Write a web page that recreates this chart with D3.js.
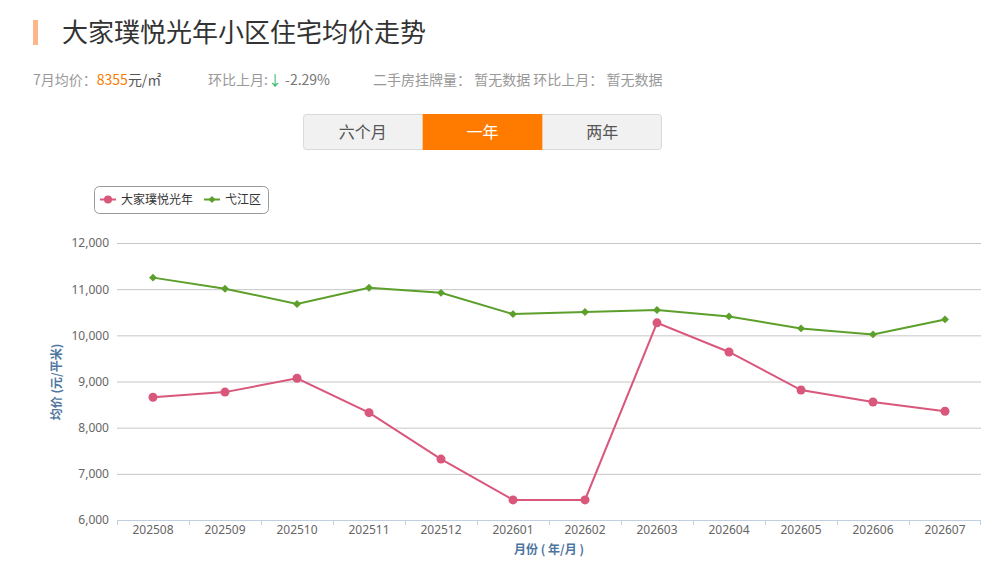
<!DOCTYPE html>
<html>
<head>
<meta charset="utf-8">
<script src="https://cdn.jsdelivr.net/npm/d3@7"></script>
<style>
  body { margin: 0; background: #fff; font-family: "Noto Sans CJK SC", "Noto Sans", sans-serif; }
  .axis text { font-family: "Noto Sans", "DejaVu Sans", sans-serif; font-size: 12px; fill: #666; }
  .axis path { display: none; }
  .grid line { stroke: #c6c6c6; }
  .grid path { display: none; }
</style>
</head>
<body>
<div id="chart"></div>
<script>
const svgWidth = 989,
    svgHeight = 581,
    plot = { left: 117, right: 981, top: 243, bottom: 520 };

// data
const months = ["202508", "202509", "202510", "202511", "202512", "202601",
    "202602", "202603", "202604", "202605", "202606", "202607"];
const estatePrice = [8660, 8770, 9070, 8325, 7320, 6435, 6435, 10270, 9640, 8815, 8555, 8355];
const districtPrice = [11250, 11010, 10680, 11030, 10920, 10460, 10505, 10550, 10410, 10150, 10020, 10345];
const yTicks = [6000, 7000, 8000, 9000, 10000, 11000, 12000];
const seriesNames = ["大家璞悦光年", "弋江区"];
const tabs = ["六个月", "一年", "两年"];

const red = "#d9577b", green = "#5c9f2b";

let svg = d3.select("#chart").append("svg")
    .attr("width", svgWidth)
    .attr("height", svgHeight);

/* header */
svg.append("rect")
    .attr("x", 33).attr("y", 20)
    .attr("width", 5).attr("height", 25)
    .style("fill", "#fbb68a");
svg.append("text")
    .attr("x", 62).attr("y", 42)
    .style("font-size", "26px")
    .style("fill", "#333")
    .text("大家璞悦光年小区住宅均价走势");

// summary row
let info = svg.append("g").style("font-size", "14px");
let t1 = info.append("text").attr("x", 33).attr("y", 85);
t1.append("tspan").style("fill", "#999").text("7月均价：");
t1.append("tspan").style("fill", "#f77c00").text("8355");
t1.append("tspan").style("fill", "#555").text("元/㎡");
let t2 = info.append("text").attr("x", 208).attr("y", 85);
t2.append("tspan").style("fill", "#999").text("环比上月:");
t2.append("tspan").style("fill", "#2dbb6a").text("↓");
t2.append("tspan").style("fill", "#777").text(" -2.29%");
info.append("text").attr("x", 373).attr("y", 85)
    .style("fill", "#999")
    .text("二手房挂牌量： 暂无数据 环比上月： 暂无数据");

// tab buttons
let tabX = d3.scaleBand().domain(tabs).range([303, 662]);
let tabG = svg.append("g");
tabG.append("rect")
    .attr("x", 303.5).attr("y", 114.5)
    .attr("width", 358).attr("height", 35)
    .attr("rx", 3)
    .style("fill", "#f1f1f1")
    .style("stroke", "#d9d9d9");
tabG.append("rect")
    .attr("x", tabX("一年")).attr("y", 114)
    .attr("width", tabX.bandwidth()).attr("height", 36)
    .style("fill", "#ff7b00");
tabG.selectAll("text.tab")
    .data(tabs)
    .join("text")
    .attr("class", "tab")
    .attr("x", d => tabX(d) + tabX.bandwidth() / 2)
    .attr("y", 138)
    .attr("text-anchor", "middle")
    .style("font-size", "16px")
    .style("fill", d => d == "一年" ? "#fff" : "#555")
    .text(d => d);

/* chart */
let x = d3.scaleBand()
    .domain(months)
    .range([plot.left, plot.right]);
let y = d3.scaleLinear()
    .domain([6000, 12000])
    .range([plot.bottom, plot.top]);

// gridlines
svg.append("g")
    .attr("class", "grid")
    .attr("transform", `translate(${plot.left},0)`)
    .call(d3.axisLeft(y).tickValues(yTicks.slice(1)).tickSize(-(plot.right - plot.left)).tickFormat(""));

// y axis labels
svg.append("g")
    .attr("class", "axis")
    .attr("transform", `translate(${plot.left - 8},0)`)
    .call(d3.axisLeft(y).tickValues(yTicks).tickSize(0).tickPadding(0).tickFormat(d3.format(",")))
    .selectAll("line").remove();

// x axis line + boundary ticks
svg.append("line")
    .attr("x1", plot.left).attr("x2", plot.right)
    .attr("y1", plot.bottom + 0.5).attr("y2", plot.bottom + 0.5)
    .style("stroke", "#c0d0e0");
svg.append("g")
    .selectAll("line")
    .data(months.concat(["end"]))
    .join("line")
    .attr("x1", d => d == "end" ? plot.right - 0.5 : Math.round(x(d)) + 0.5)
    .attr("x2", d => d == "end" ? plot.right - 0.5 : Math.round(x(d)) + 0.5)
    .attr("y1", plot.bottom)
    .attr("y2", plot.bottom + 5)
    .style("stroke", "#c0d0e0");

svg.append("g")
    .attr("class", "axis")
    .attr("transform", `translate(0,${plot.bottom})`)
    .call(d3.axisBottom(x).tickSize(0).tickPadding(14))
    .selectAll("text").attr("dy", "0");

// axis titles
svg.append("text")
    .attr("text-anchor", "middle")
    .attr("x", (plot.left + plot.right) / 2)
    .attr("y", 554)
    .style("font-size", "12px")
    .style("font-weight", "bold")
    .style("fill", "#4d759e")
    .text("月份 ( 年/月 )");
svg.append("text")
    .attr("text-anchor", "middle")
    .attr("transform", `translate(61,382) rotate(-90)`)
    .style("font-size", "12px")
    .style("font-weight", "bold")
    .style("fill", "#4d759e")
    .text("均价 (元/平米)");

// lines
let cx = d => x(d) + x.bandwidth() / 2;
let line = d3.line()
    .x(d => cx(d.m))
    .y(d => y(d.v));

let districtData = months.map((m, i) => ({ m: m, v: districtPrice[i] }));
let estateData = months.map((m, i) => ({ m: m, v: estatePrice[i] }));

svg.append("path")
    .datum(districtData)
    .attr("d", line)
    .style("fill", "none")
    .style("stroke", green)
    .style("stroke-width", 2);
svg.append("g")
    .selectAll("path")
    .data(districtData)
    .join("path")
    .attr("transform", d => `translate(${cx(d.m)},${y(d.v)})`)
    .attr("d", d3.symbol(d3.symbolDiamond2, 40))
    .style("fill", green);

svg.append("path")
    .datum(estateData)
    .attr("d", line)
    .style("fill", "none")
    .style("stroke", red)
    .style("stroke-width", 2);
svg.append("g")
    .selectAll("circle")
    .data(estateData)
    .join("circle")
    .attr("cx", d => cx(d.m))
    .attr("cy", d => y(d.v))
    .attr("r", 4.5)
    .style("fill", red);

// legend
let legend = svg.append("g");
legend.append("rect")
    .attr("x", 94.5).attr("y", 186.5)
    .attr("width", 174).attr("height", 27)
    .attr("rx", 5)
    .style("fill", "#fff")
    .style("stroke", "#999");
let legendX = [100, 204];
let legendColors = [red, green];
seriesNames.forEach((name, i) => {
    let g = legend.append("g").attr("transform", `translate(${legendX[i]},199.5)`);
    g.append("line")
        .attr("x1", 0).attr("x2", 16)
        .style("stroke", legendColors[i])
        .style("stroke-width", 2);
    if (i == 0) {
        g.append("circle").attr("cx", 8).attr("r", 4).style("fill", red);
    } else {
        g.append("path")
            .attr("transform", "translate(8,0)")
            .attr("d", d3.symbol(d3.symbolDiamond2, 32))
            .style("fill", green);
    }
    g.append("text")
        .attr("x", 21).attr("y", 4)
        .style("font-size", "12px")
        .style("fill", "#333")
        .text(name);
});
</script>
</body>
</html>
